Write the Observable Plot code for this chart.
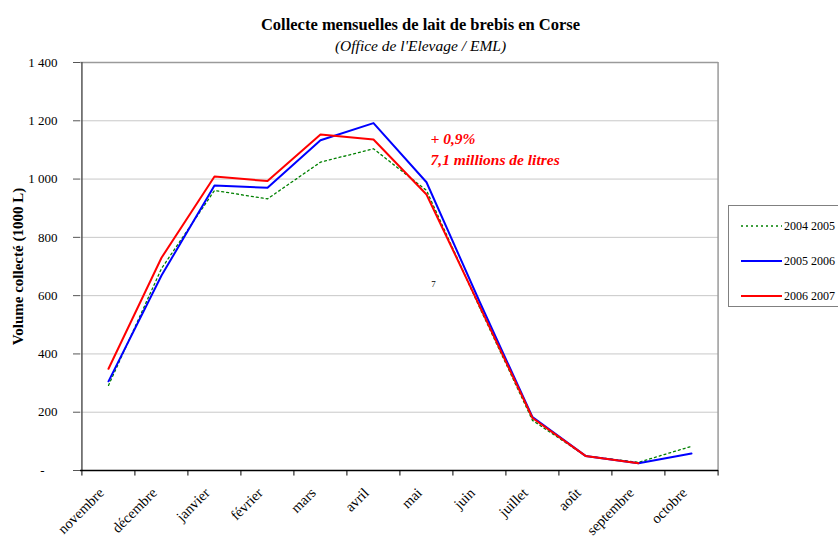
<!DOCTYPE html>
<html>
<head>
<meta charset="utf-8">
<script src="https://cdn.jsdelivr.net/npm/d3@7"></script>
<script src="https://cdn.jsdelivr.net/npm/@observablehq/plot@0.6"></script>
<style>
  html, body { margin: 0; padding: 0; background: #fff; }
  #chart svg { display: block; }
</style>
</head>
<body>
<div id="chart"></div>
<script>
// ---- Data ----
const months = ["novembre","décembre","janvier","février","mars","avril","mai","juin","juillet","août","septembre","octobre"];
const s0405 = [292, 693, 961, 932, 1058, 1104, 961, 560, 172, 50, 28, 83];
const s0506 = [306, 669, 978, 970, 1133, 1192, 989, 580, 183, 50, 25, 58];
const s0607 = [349, 730, 1009, 993, 1153, 1136, 947, 565, 180, 50, 25, null];
const seriesNames = ["2004 2005", "2005 2006", "2006 2007"];
const seriesColors = ["#008000", "#0000ff", "#ff0000"];
const yTicks = [0, 200, 400, 600, 800, 1000, 1200, 1400];
const yTickLabels = ["-\u00a0\u00a0\u00a0\u00a0", "200", "400", "600", "800", "1 000", "1 200", "1 400"];
const title = "Collecte mensuelles de lait de brebis en Corse";
const subtitle = "(Office de l'Elevage / EML)";
const yLabel = "Volume collecté (1000 L)";
const noteLines = ["+ 0,9%", "7,1 millions de litres"];
const noteValues = [1139, 1064];

// ---- Layout ----
const W = 838, H = 539;
const mL = 80, mR = 120, mT = 62, mB = 69;
const step = (W - mL - mR) / months.length;
const FONT = "'Liberation Serif', 'Times New Roman', serif";

const rows = [];
[s0405, s0506, s0607].forEach((arr, i) => {
  arr.forEach((v, j) => { if (v != null) rows.push({series: seriesNames[i], month: months[j], value: v}); });
});
const bySeries = name => rows.filter(r => r.series === name);

const plot = Plot.plot({
  width: W, height: H,
  marginLeft: mL, marginRight: mR, marginTop: mT, marginBottom: mB,
  style: {fontFamily: FONT, fontSize: "13px", background: "#fff", color: "#000"},
  x: {type: "point", domain: months, padding: 0.5, axis: null},
  y: {domain: [0, 1400], axis: null},
  marks: [
    Plot.gridY(yTicks.slice(1, -1), {stroke: "#c8c8c8", strokeOpacity: 1}),
    // frame top and right (gray)
    Plot.ruleY([1400], {stroke: "#9a9a9a", strokeWidth: 1.5}),
    Plot.ruleX([months[months.length - 1]], {dx: step / 2, stroke: "#9a9a9a", strokeWidth: 1.5}),
    // left axis line
    Plot.ruleX([months[0]], {dx: -step / 2, stroke: "#555", strokeWidth: 1.5}),
    Plot.axisY({ticks: yTicks, tickSize: 7, tickPadding: 16, stroke: "#555", label: null,
      tickFormat: d => yTickLabels[yTicks.indexOf(d)], fontSize: 13}),
    // bottom axis
    Plot.ruleY([0], {stroke: "#000", strokeWidth: 1.5}),
    Plot.ruleX(months, {y1: 0, y2: -19, dx: -step / 2, stroke: "#000"}),
    Plot.ruleX([months[months.length - 1]], {y1: 0, y2: -19, dx: step / 2, stroke: "#000"}),
    Plot.text(months, {x: d => d, frameAnchor: "bottom", text: d => d, rotate: -45,
      textAnchor: "end", lineAnchor: "middle", dy: 20, dx: -7, fontSize: 14.5}),
    // series
    Plot.line(bySeries(seriesNames[0]), {x: "month", y: "value", stroke: seriesColors[0], strokeWidth: 1.3, strokeDasharray: "2,3"}),
    Plot.line(bySeries(seriesNames[1]), {x: "month", y: "value", stroke: seriesColors[1], strokeWidth: 2}),
    Plot.line(bySeries(seriesNames[2]), {x: "month", y: "value", stroke: seriesColors[2], strokeWidth: 2}),
    // annotation
    Plot.text(noteLines, {x: () => "mai", y: (d, i) => noteValues[i], text: d => d, textAnchor: "start", dx: 4,
      fill: "#ff0000", fontWeight: "bold", fontStyle: "italic", fontSize: 15.5}),
    Plot.text(["7"], {x: () => "mai", y: () => 641, text: d => d, dx: 7, fontSize: 9}),
    // titles
    Plot.text([title], {frameAnchor: "top", dx: 21, dy: -44, fontWeight: "bold", fontSize: 16.5}),
    Plot.text([subtitle], {frameAnchor: "top", dx: 21, dy: -23, fontStyle: "italic", fontSize: 15.5}),
    Plot.text([yLabel], {frameAnchor: "left", textAnchor: "middle", dx: -62, rotate: -90, fontWeight: "bold", fontSize: 15})
  ]
});

// legend
const svg = d3.select(plot);
const lg = svg.append("g").attr("font-family", FONT).attr("font-size", 12).attr("text-anchor", "start");
lg.append("rect").attr("x", 728.5).attr("y", 205.5).attr("width", 130).attr("height", 101)
  .attr("fill", "#fff").attr("stroke", "#808080");
seriesNames.forEach((name, i) => {
  const yy = 226 + i * 35;
  lg.append("line").attr("x1", 741).attr("x2", 782).attr("y1", yy).attr("y2", yy)
    .attr("stroke", seriesColors[i]).attr("stroke-width", i === 0 ? 1.3 : 2)
    .attr("stroke-dasharray", i === 0 ? "2,3" : null);
  lg.append("text").attr("x", 784).attr("y", yy).attr("dy", "0.35em").text(name);
});

document.getElementById("chart").appendChild(plot);
</script>
</body>
</html>
